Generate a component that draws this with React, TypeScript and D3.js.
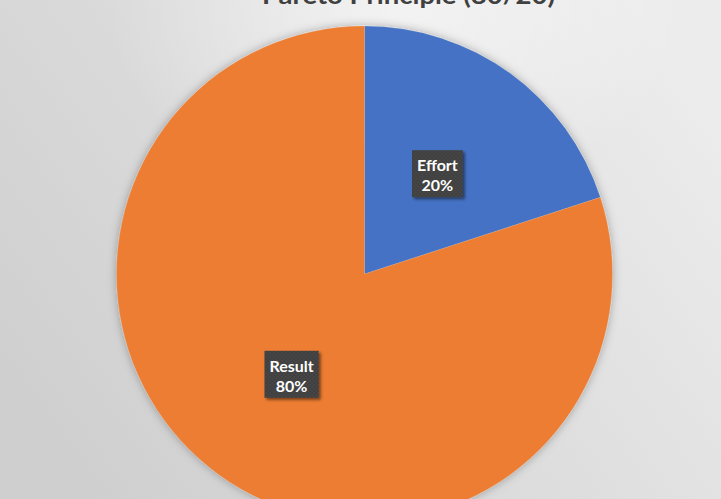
import React, { useEffect, useRef } from "react";
import * as d3 from "d3";

const WIDTH = 721;
const HEIGHT = 499;

const chartTitle = "Pareto Principle (80/20)";
const categories = ["Effort", "Result"];
const values = [20, 80];
const sliceColors = ["#4472C4", "#ED7D31"];

export default function App() {
  const ref = useRef<SVGSVGElement | null>(null);

  useEffect(() => {
    const svg = d3.select(ref.current);
    svg.selectAll("*").remove();

    const defs = svg.append("defs");

    // chart-area background: soft grey sweep, lighter towards the upper right
    const bg = defs
      .append("linearGradient")
      .attr("id", "bgGrad")
      .attr("x1", "0")
      .attr("y1", "0.75")
      .attr("x2", "1")
      .attr("y2", "0.25");
    bg.append("stop").attr("offset", "0").attr("stop-color", "#cfcfcf");
    bg.append("stop").attr("offset", "0.55").attr("stop-color", "#dedede");
    bg.append("stop").attr("offset", "1").attr("stop-color", "#ececec");

    const hl = defs
      .append("radialGradient")
      .attr("id", "bgHighlight")
      .attr("cx", "0.55")
      .attr("cy", "0.02")
      .attr("r", "0.4");
    hl.append("stop").attr("offset", "0").attr("stop-color", "#ffffff").attr("stop-opacity", 0.55);
    hl.append("stop").attr("offset", "1").attr("stop-color", "#ffffff").attr("stop-opacity", 0);

    const pieShadow = defs
      .append("filter")
      .attr("id", "pieShadow")
      .attr("x", "-20%")
      .attr("y", "-20%")
      .attr("width", "140%")
      .attr("height", "140%");
    pieShadow
      .append("feDropShadow")
      .attr("dx", 0)
      .attr("dy", 0)
      .attr("stdDeviation", 5)
      .attr("flood-color", "#000")
      .attr("flood-opacity", 0.3);

    const boxShadow = defs
      .append("filter")
      .attr("id", "boxShadow")
      .attr("x", "-30%")
      .attr("y", "-30%")
      .attr("width", "160%")
      .attr("height", "160%");
    boxShadow
      .append("feDropShadow")
      .attr("dx", 2)
      .attr("dy", 2)
      .attr("stdDeviation", 1.8)
      .attr("flood-color", "#000")
      .attr("flood-opacity", 0.5);

    // dotted texture for the label boxes
    const pat = defs
      .append("pattern")
      .attr("id", "dots")
      .attr("width", 4)
      .attr("height", 4)
      .attr("patternUnits", "userSpaceOnUse");
    pat.append("rect").attr("width", 4).attr("height", 4).attr("fill", "#404040");
    pat.append("rect").attr("x", 0).attr("y", 0).attr("width", 1).attr("height", 1).attr("fill", "#595959");
    pat.append("rect").attr("x", 2).attr("y", 2).attr("width", 1).attr("height", 1).attr("fill", "#595959");

    svg.append("rect").attr("width", WIDTH).attr("height", HEIGHT).attr("fill", "url(#bgGrad)");
    svg.append("rect").attr("width", WIDTH).attr("height", HEIGHT).attr("fill", "url(#bgHighlight)");

    // title
    svg
      .append("text")
      .attr("x", 408.5)
      .attr("y", 4)
      .attr("text-anchor", "middle")
      .attr("font-family", "Lato, 'Open Sans', sans-serif")
      .attr("font-weight", 700)
      .attr("font-size", 24)
      .attr("fill", "#404040")
      .attr("textLength", 293)
      .attr("lengthAdjust", "spacingAndGlyphs")
      .text(chartTitle);

    const cx = 364.5;
    const cy = 274;
    const radius = 248;

    const pie = d3
      .pie<number>()
      .sort(null)
      .value((d) => d);
    const arcs = pie(values);
    const arc = d3.arc<d3.PieArcDatum<number>>().innerRadius(0).outerRadius(radius);
    const total = d3.sum(values);

    const g = svg.append("g").attr("transform", `translate(${cx},${cy})`);

    g.append("g")
      .attr("filter", "url(#pieShadow)")
      .selectAll("path")
      .data(arcs)
      .join("path")
      .attr("d", arc)
      .attr("fill", (_, i) => sliceColors[i])
      .attr("stroke", "#ffffff")
      .attr("stroke-opacity", 0.25)
      .attr("stroke-width", 0.5);

    // data labels in dark callout boxes at each slice centroid
    const labels = g.append("g");
    arcs.forEach((a, i) => {
      const [lx, ly] = arc.centroid(a);
      const lg = labels.append("g").attr("transform", `translate(${lx},${ly})`);
      const box = lg.append("rect").attr("fill", "url(#dots)").attr("filter", "url(#boxShadow)");
      const pct = `${Math.round((values[i] / total) * 100)}%`;
      const lines = [categories[i], pct];
      const texts = lines.map((t, k) =>
        lg
          .append("text")
          .attr("x", 0)
          .attr("y", -2.5 + k * 20)
          .attr("text-anchor", "middle")
          .attr("font-family", "Lato, 'Open Sans', sans-serif")
          .attr("font-weight", 700)
          .attr("font-size", 16)
          .attr("fill", "#ffffff")
          .text(t)
      );
      const w = d3.max(texts, (t) => (t.node() as SVGTextElement).getComputedTextLength()) || 40;
      const bw = w + 10;
      const bh = 47;
      box
        .attr("x", -bw / 2)
        .attr("y", -23.5)
        .attr("width", bw)
        .attr("height", bh);
    });
  }, []);

  return (
    <svg
      ref={ref}
      width={WIDTH}
      height={HEIGHT}
      style={{ position: "absolute", left: 0, top: 0, display: "block" }}
    />
  );
}
